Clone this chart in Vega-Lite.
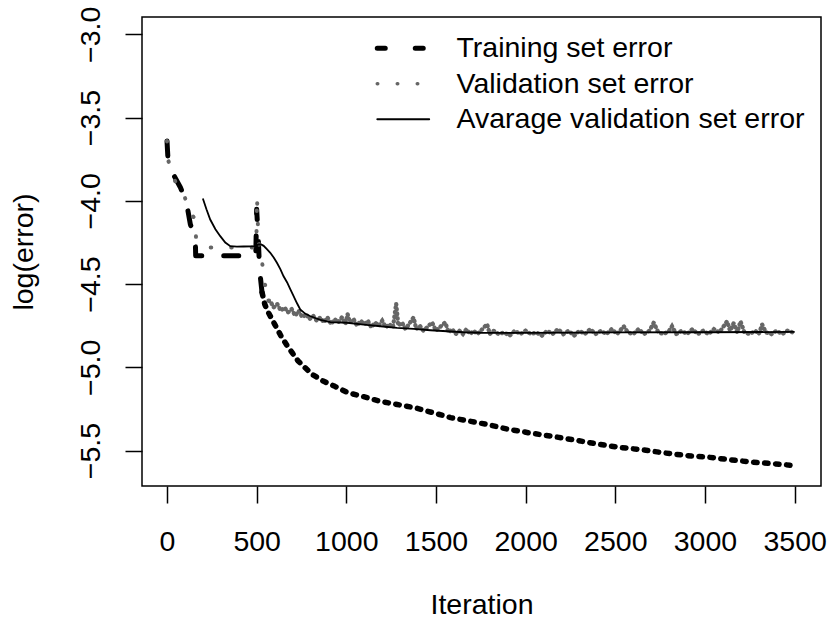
{
  "$schema": "https://vega.github.io/schema/vega-lite/v6.json",
  "autosize": "none",
  "width": 679,
  "height": 469,
  "padding": {"left": 142, "top": 17, "right": 8, "bottom": 135},
  "background": "white",
  "config": {
    "view": {"stroke": "black", "strokeWidth": 1.5},
    "font": "Liberation Sans",
    "axis": {
      "labelFont": "Liberation Sans",
      "titleFont": "Liberation Sans",
      "labelFontSize": 28.5,
      "titleFontSize": 28.5,
      "titleFontWeight": "normal",
      "labelColor": "black",
      "titleColor": "black",
      "tickColor": "black",
      "tickWidth": 1.5,
      "tickSize": 17,
      "domain": false,
      "grid": false,
      "labelOverlap": false,
      "labelFlush": false
    }
  },
  "datasets": {
    "training": [
      {"iter": 0, "err": -3.64}, {"iter": 3, "err": -3.7}, {"iter": 6, "err": -3.76}, {"iter": 20, "err": -3.8},
      {"iter": 40, "err": -3.85}, {"iter": 75, "err": -3.92}, {"iter": 95, "err": -3.97}, {"iter": 112, "err": -4.03},
      {"iter": 130, "err": -4.14}, {"iter": 150, "err": -4.2}, {"iter": 158, "err": -4.24}, {"iter": 160, "err": -4.33},
      {"iter": 200, "err": -4.33}, {"iter": 260, "err": -4.33}, {"iter": 335, "err": -4.33}, {"iter": 446, "err": -4.33},
      {"iter": 495, "err": -4.33}, {"iter": 500, "err": -4.05}, {"iter": 505, "err": -4.15}, {"iter": 510, "err": -4.25},
      {"iter": 515, "err": -4.38}, {"iter": 520, "err": -4.45}, {"iter": 530, "err": -4.55}, {"iter": 545, "err": -4.62},
      {"iter": 560, "err": -4.66}, {"iter": 580, "err": -4.7}, {"iter": 600, "err": -4.74}, {"iter": 638, "err": -4.816},
      {"iter": 670, "err": -4.87}, {"iter": 700, "err": -4.915}, {"iter": 730, "err": -4.96}, {"iter": 763, "err": -4.995},
      {"iter": 812, "err": -5.044}, {"iter": 874, "err": -5.084}, {"iter": 936, "err": -5.114}, {"iter": 1011, "err": -5.153},
      {"iter": 1086, "err": -5.173}, {"iter": 1185, "err": -5.203}, {"iter": 1284, "err": -5.223}, {"iter": 1384, "err": -5.243},
      {"iter": 1483, "err": -5.272}, {"iter": 1582, "err": -5.302}, {"iter": 1682, "err": -5.322}, {"iter": 1781, "err": -5.342},
      {"iter": 1905, "err": -5.372}, {"iter": 2029, "err": -5.395}, {"iter": 2154, "err": -5.415}, {"iter": 2278, "err": -5.437},
      {"iter": 2402, "err": -5.461}, {"iter": 2526, "err": -5.481}, {"iter": 2650, "err": -5.495}, {"iter": 2775, "err": -5.514},
      {"iter": 2899, "err": -5.53}, {"iter": 3023, "err": -5.54}, {"iter": 3147, "err": -5.556}, {"iter": 3271, "err": -5.57},
      {"iter": 3396, "err": -5.58}, {"iter": 3500, "err": -5.59}
    ],
    "validation": [
      {"iter": 0, "err": -3.64}, {"iter": 4, "err": -3.7}, {"iter": 8, "err": -3.76}, {"iter": 30, "err": -3.84},
      {"iter": 56, "err": -3.91}, {"iter": 74, "err": -3.93}, {"iter": 96, "err": -3.96}, {"iter": 113, "err": -4.04},
      {"iter": 135, "err": -4.08}, {"iter": 158, "err": -4.11}, {"iter": 162, "err": -4.23}, {"iter": 219, "err": -4.28},
      {"iter": 280, "err": -4.28}, {"iter": 338, "err": -4.28}, {"iter": 400, "err": -4.28}, {"iter": 461, "err": -4.28},
      {"iter": 498, "err": -4.28}, {"iter": 502, "err": -3.976}, {"iter": 504, "err": -4.05}, {"iter": 506, "err": -4.1},
      {"iter": 508, "err": -4.2}, {"iter": 512, "err": -4.25}, {"iter": 520, "err": -4.3}, {"iter": 530, "err": -4.36},
      {"iter": 539, "err": -4.46}, {"iter": 548, "err": -4.51}, {"iter": 558, "err": -4.57}, {"iter": 566, "err": -4.6},
      {"iter": 575, "err": -4.6}, {"iter": 595, "err": -4.64}, {"iter": 615, "err": -4.62}, {"iter": 635, "err": -4.66},
      {"iter": 655, "err": -4.64}, {"iter": 675, "err": -4.67}, {"iter": 695, "err": -4.65}, {"iter": 715, "err": -4.69},
      {"iter": 735, "err": -4.66}, {"iter": 755, "err": -4.7}, {"iter": 775, "err": -4.68}, {"iter": 795, "err": -4.71},
      {"iter": 815, "err": -4.69}, {"iter": 835, "err": -4.72}, {"iter": 855, "err": -4.7}, {"iter": 875, "err": -4.73},
      {"iter": 895, "err": -4.7}, {"iter": 915, "err": -4.74}, {"iter": 935, "err": -4.71}, {"iter": 955, "err": -4.73},
      {"iter": 975, "err": -4.7}, {"iter": 995, "err": -4.74}, {"iter": 1007, "err": -4.68}, {"iter": 1020, "err": -4.73},
      {"iter": 1040, "err": -4.71}, {"iter": 1060, "err": -4.75}, {"iter": 1080, "err": -4.72}, {"iter": 1100, "err": -4.74},
      {"iter": 1120, "err": -4.72}, {"iter": 1140, "err": -4.76}, {"iter": 1160, "err": -4.73}, {"iter": 1180, "err": -4.75},
      {"iter": 1200, "err": -4.72}, {"iter": 1220, "err": -4.76}, {"iter": 1240, "err": -4.74}, {"iter": 1260, "err": -4.76},
      {"iter": 1278, "err": -4.617}, {"iter": 1290, "err": -4.75}, {"iter": 1310, "err": -4.73}, {"iter": 1330, "err": -4.77},
      {"iter": 1350, "err": -4.74}, {"iter": 1375, "err": -4.7}, {"iter": 1390, "err": -4.77}, {"iter": 1410, "err": -4.75},
      {"iter": 1430, "err": -4.78}, {"iter": 1450, "err": -4.76}, {"iter": 1478, "err": -4.73}, {"iter": 1500, "err": -4.78},
      {"iter": 1520, "err": -4.76}, {"iter": 1552, "err": -4.73}, {"iter": 1570, "err": -4.79}, {"iter": 1590, "err": -4.77},
      {"iter": 1610, "err": -4.8}, {"iter": 1630, "err": -4.78}, {"iter": 1650, "err": -4.8}, {"iter": 1670, "err": -4.77},
      {"iter": 1690, "err": -4.8}, {"iter": 1710, "err": -4.78}, {"iter": 1730, "err": -4.8}, {"iter": 1750, "err": -4.78},
      {"iter": 1785, "err": -4.74}, {"iter": 1800, "err": -4.8}, {"iter": 1820, "err": -4.78}, {"iter": 1850, "err": -4.8},
      {"iter": 1880, "err": -4.79}, {"iter": 1910, "err": -4.81}, {"iter": 1940, "err": -4.78}, {"iter": 1970, "err": -4.8},
      {"iter": 2000, "err": -4.78}, {"iter": 2030, "err": -4.8}, {"iter": 2060, "err": -4.79}, {"iter": 2090, "err": -4.81},
      {"iter": 2120, "err": -4.78}, {"iter": 2150, "err": -4.8}, {"iter": 2180, "err": -4.77}, {"iter": 2210, "err": -4.8},
      {"iter": 2240, "err": -4.78}, {"iter": 2270, "err": -4.81}, {"iter": 2300, "err": -4.78}, {"iter": 2330, "err": -4.8},
      {"iter": 2360, "err": -4.77}, {"iter": 2390, "err": -4.8}, {"iter": 2420, "err": -4.78}, {"iter": 2450, "err": -4.8},
      {"iter": 2480, "err": -4.77}, {"iter": 2510, "err": -4.8}, {"iter": 2547, "err": -4.753}, {"iter": 2570, "err": -4.79},
      {"iter": 2600, "err": -4.8}, {"iter": 2630, "err": -4.77}, {"iter": 2660, "err": -4.8}, {"iter": 2690, "err": -4.78},
      {"iter": 2714, "err": -4.732}, {"iter": 2740, "err": -4.79}, {"iter": 2770, "err": -4.8}, {"iter": 2800, "err": -4.78},
      {"iter": 2816, "err": -4.753}, {"iter": 2840, "err": -4.8}, {"iter": 2870, "err": -4.78}, {"iter": 2900, "err": -4.8},
      {"iter": 2930, "err": -4.77}, {"iter": 2960, "err": -4.8}, {"iter": 2990, "err": -4.78}, {"iter": 3020, "err": -4.8},
      {"iter": 3050, "err": -4.77}, {"iter": 3080, "err": -4.79}, {"iter": 3100, "err": -4.76}, {"iter": 3123, "err": -4.723},
      {"iter": 3140, "err": -4.78}, {"iter": 3160, "err": -4.735}, {"iter": 3180, "err": -4.79}, {"iter": 3198, "err": -4.723},
      {"iter": 3220, "err": -4.79}, {"iter": 3250, "err": -4.8}, {"iter": 3280, "err": -4.78}, {"iter": 3300, "err": -4.8},
      {"iter": 3319, "err": -4.743}, {"iter": 3340, "err": -4.79}, {"iter": 3370, "err": -4.8}, {"iter": 3400, "err": -4.78},
      {"iter": 3430, "err": -4.8}, {"iter": 3460, "err": -4.78}, {"iter": 3490, "err": -4.79}, {"iter": 3500, "err": -4.785}
    ],
    "average": [
      {"iter": 200, "err": -3.986}, {"iter": 220, "err": -4.05}, {"iter": 241, "err": -4.112}, {"iter": 270, "err": -4.17},
      {"iter": 297, "err": -4.212}, {"iter": 325, "err": -4.25}, {"iter": 353, "err": -4.272}, {"iter": 390, "err": -4.275},
      {"iter": 427, "err": -4.274}, {"iter": 470, "err": -4.273}, {"iter": 492, "err": -4.272}, {"iter": 510, "err": -4.262},
      {"iter": 525, "err": -4.262}, {"iter": 539, "err": -4.27}, {"iter": 557, "err": -4.29}, {"iter": 576, "err": -4.312},
      {"iter": 595, "err": -4.34}, {"iter": 613, "err": -4.372}, {"iter": 632, "err": -4.41}, {"iter": 650, "err": -4.453},
      {"iter": 670, "err": -4.49}, {"iter": 688, "err": -4.532}, {"iter": 706, "err": -4.572}, {"iter": 725, "err": -4.615},
      {"iter": 743, "err": -4.652}, {"iter": 770, "err": -4.677}, {"iter": 800, "err": -4.693}, {"iter": 855, "err": -4.715},
      {"iter": 911, "err": -4.728}, {"iter": 1004, "err": -4.732}, {"iter": 1097, "err": -4.743}, {"iter": 1190, "err": -4.753},
      {"iter": 1283, "err": -4.763}, {"iter": 1376, "err": -4.769}, {"iter": 1469, "err": -4.777}, {"iter": 1562, "err": -4.783},
      {"iter": 1655, "err": -4.789}, {"iter": 1748, "err": -4.792}, {"iter": 2000, "err": -4.793}, {"iter": 2500, "err": -4.79},
      {"iter": 3000, "err": -4.789}, {"iter": 3500, "err": -4.787}
    ]
  },
  "encoding": {
    "x": {
      "field": "iter", "type": "quantitative",
      "scale": {"domain": [-139.4, 3647], "nice": false, "zero": false},
      "axis": {"values": [0, 500, 1000, 1500, 2000, 2500, 3000, 3500], "format": "d", "title": "Iteration", "labelPadding": 24, "titlePadding": 35}
    },
    "y": {
      "field": "err", "type": "quantitative",
      "scale": {"domain": [-5.7125, -2.8956], "nice": false, "zero": false},
      "axis": {"values": [-3, -3.5, -4, -4.5, -5, -5.5], "format": ".1f", "title": "log(error)", "labelAngle": -90, "labelAlign": "center", "labelBaseline": "bottom", "labelPadding": 20, "titlePadding": 38}
    },
    "color": {
      "field": "series", "type": "nominal",
      "scale": {"domain": ["Training set error", "Validation set error", "Avarage validation set error"], "range": ["black", "#666666", "black"]},
      "legend": {
        "title": null, "orient": "none", "legendX": 247, "legendY": 17,
        "symbolType": "stroke", "symbolSize": 2704, "symbolStrokeWidth": 2,
        "labelFont": "Liberation Sans", "labelFontSize": 28.5, "labelColor": "black", "labelLimit": 600,
        "labelOffset": 39, "rowPadding": 6.5, "padding": 0,
        "encode": {
          "symbols": {
            "update": {
              "strokeCap": {"value": "round"},
              "strokeDash": {"signal": "datum.value === 'Training set error' ? [8, 30] : datum.value === 'Validation set error' ? [0.5, 19.5] : [1, 0]"},
              "strokeWidth": {"signal": "datum.value === 'Training set error' ? 5 : datum.value === 'Validation set error' ? 3.5 : 1.8"}
            }
          }
        }
      }
    }
  },
  "layer": [
    {
      "data": {"name": "training"},
      "transform": [{"filter": "datum.iter <= 530"}, {"calculate": "'Training set error'", "as": "series"}],
      "mark": {"type": "line", "strokeWidth": 5, "strokeDash": [15, 22], "strokeCap": "round", "strokeJoin": "round"}
    },
    {
      "data": {"name": "training"},
      "transform": [{"filter": "datum.iter >= 530"}, {"calculate": "'Training set error'", "as": "series"}],
      "mark": {"type": "line", "strokeWidth": 5.5, "strokeDash": [3.5, 7.5], "strokeCap": "round", "strokeJoin": "round"}
    },
    {
      "data": {"name": "validation"},
      "transform": [{"filter": "datum.iter <= 566"}, {"calculate": "'Validation set error'", "as": "series"}],
      "mark": {"type": "line", "strokeWidth": 4, "strokeDash": [0.5, 20], "strokeCap": "round"}
    },
    {
      "data": {"name": "validation"},
      "transform": [{"filter": "datum.iter >= 566"}, {"calculate": "'Validation set error'", "as": "series"}],
      "mark": {"type": "line", "strokeWidth": 4.3, "strokeDash": [0.5, 4.2], "strokeCap": "round"}
    },
    {
      "data": {"name": "average"},
      "transform": [{"calculate": "'Avarage validation set error'", "as": "series"}],
      "mark": {"type": "line", "strokeWidth": 1.8, "strokeCap": "butt"}
    }
  ]
}
